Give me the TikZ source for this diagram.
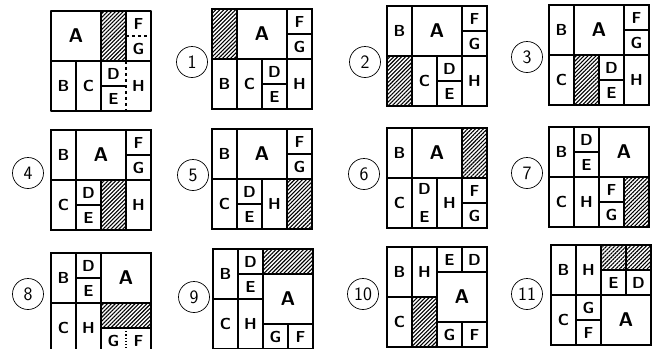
\documentclass[tikz,border=0pt]{standalone}
\usepackage{tikz}
\usetikzlibrary{patterns.meta}

\begin{document}
\begin{tikzpicture}[x=1bp, y=-1bp]
	% Define style for nodes
	\tikzstyle{every node}=[inner sep=0pt, outer sep=0pt]
	\tikzstyle{lbl}=[font=\sffamily\bfseries\fontsize{16}{24}\selectfont]
	\tikzstyle{piece}=[lbl, draw, rectangle, anchor=north west, line width=1.2pt]
	\tikzstyle{onebox}=[piece, minimum width=25bp, minimum height=25bp]
	\tikzstyle{tallbox}=[piece, minimum width=25bp, minimum height=50bp]
	\tikzstyle{widebox}=[piece, minimum width=50bp, minimum height=25bp]
	\tikzstyle{bigbox}=[piece, minimum width=50bp, minimum height=50bp, font=\sffamily\bfseries\fontsize{20}{22}\selectfont]
	\tikzstyle{hole}=[pattern={Lines[angle=45, distance=2.8pt, line width=1.1pt]}, line width=1.5pt]
	\tikzstyle{wall}=[line width=1.2pt]
	\tikzstyle{outline}=[line width=2.4pt, line join=round]
	\tikzstyle{stepnum}=[circle, draw, line width=0.7pt, minimum size=31bp, font=\sffamily\fontsize{19}{19}\selectfont]
	
	\useasboundingbox (0,0) rectangle (654,348);
	
	\begin{scope}[shift={(51,11)}, x=25bp, y=-25bp]
		\fill[hole] (2,0) rectangle (3,2);
		\draw[wall] (0,2) -- (4,2);
		\draw[wall] (2,0) -- (2,4);
		\draw[wall] (3,0) -- (3,2);
		\draw[wall] (1,2) -- (1,4);
		\draw[wall] (2,3) -- (3,3);
		\draw[wall, dashed] (3,2) -- (3,4);
		\draw[wall, dashed] (3,1) -- (4,1);
		
		\node[lbl, font=\sffamily\bfseries\fontsize{20}{22}\selectfont] (a) at (1,1) {A};
		\node[lbl] (f) at (3.5,0.5) {F};
		\node[lbl] (g) at (3.5,1.5) {G};
		\node[lbl] (b) at (0.5,3) {B};
		\node[lbl] (c) at (1.5,3) {C};
		\node[lbl] (d) at (2.5,2.5) {D};
		\node[lbl] (e) at (2.5,3.5) {E};
		\node[lbl] (h) at (3.5,3) {H};
		\draw[outline] (0,0) rectangle (4,4);
	\end{scope}
	
	\begin{scope}[shift={(212,9)}, x=25bp, y=-25bp]
		\node[tallbox, hole] (x) at (0,0) {};
		\node[bigbox] (a) at (1,0) {A};
		\node[onebox] (f) at (3,0) {F};
		\node[onebox] (g) at (3,1) {G};
		\node[tallbox] (b) at (0,2) {B};
		\node[tallbox] (c) at (1,2) {C};
		\node[onebox] (d) at (2,2) {D};
		\node[onebox] (e) at (2,3) {E};
		\node[tallbox] (h) at (3,2) {H};
		\draw[outline] (0,0) rectangle (4,4);
	\end{scope}
	
	\begin{scope}[shift={(387,6)}, x=25bp, y=-25bp]
		\node[tallbox] (b) at (0,0) {B};
		\node[bigbox] (a) at (1,0) {A};
		\node[onebox] (f) at (3,0) {F};
		\node[onebox] (g) at (3,1) {G};
		\node[tallbox, hole] (x) at (0,2) {};
		\node[tallbox] (c) at (1,2) {C};
		\node[onebox] (d) at (2,2) {D};
		\node[onebox] (e) at (2,3) {E};
		\node[tallbox] (h) at (3,2) {H};
		\draw[outline] (0,0) rectangle (4,4);
	\end{scope}
	
	\begin{scope}[shift={(549,5)}, x=25bp, y=-25bp]
		\node[tallbox] (b) at (0,0) {B};
		\node[bigbox] (a) at (1,0) {A};
		\node[onebox] (f) at (3,0) {F};
		\node[onebox] (g) at (3,1) {G};
		\node[tallbox] (c) at (0,2) {C};
		\node[tallbox, hole] (x) at (1,2) {};
		\node[onebox] (d) at (2,2) {D};
		\node[onebox] (e) at (2,3) {E};
		\node[tallbox] (h) at (3,2) {H};
		\draw[outline] (0,0) rectangle (4,4);
	\end{scope}
	
	\begin{scope}[shift={(51,130)}, x=25bp, y=-25bp]
		\node[tallbox] (b) at (0,0) {B};
		\node[bigbox] (a) at (1,0) {A};
		\node[onebox] (f) at (3,0) {F};
		\node[onebox] (g) at (3,1) {G};
		\node[tallbox] (c) at (0,2) {C};
		\node[onebox] (d) at (1,2) {D};
		\node[onebox] (e) at (1,3) {E};
		\node[tallbox, hole] (x) at (2,2) {};
		\node[tallbox] (h) at (3,2) {H};
		\draw[outline] (0,0) rectangle (4,4);
	\end{scope}
	
	\begin{scope}[shift={(212,129)}, x=25bp, y=-25bp]
		\node[tallbox] (b) at (0,0) {B};
		\node[bigbox] (a) at (1,0) {A};
		\node[onebox] (f) at (3,0) {F};
		\node[onebox] (g) at (3,1) {G};
		\node[tallbox] (c) at (0,2) {C};
		\node[onebox] (d) at (1,2) {D};
		\node[onebox] (e) at (1,3) {E};
		\node[tallbox] (h) at (2,2) {H};
		\node[tallbox, hole] (x) at (3,2) {};
		\draw[outline] (0,0) rectangle (4,4);
	\end{scope}
	
	\begin{scope}[shift={(387,128)}, x=25bp, y=-25bp]
		\node[tallbox] (b) at (0,0) {B};
		\node[bigbox] (a) at (1,0) {A};
		\node[tallbox, hole] (x) at (3,0) {};
		\node[tallbox] (c) at (0,2) {C};
		\node[tallbox, align=center] (de) at (1,2) {D\\[4bp]E};
		\node[tallbox] (h) at (2,2) {H};
		\node[onebox] (f) at (3,2) {F};
		\node[onebox] (g) at (3,3) {G};
		\draw[outline] (0,0) rectangle (4,4);
	\end{scope}
	
	\begin{scope}[shift={(549,127)}, x=25bp, y=-25bp]
		\node[tallbox] (b) at (0,0) {B};
		\node[onebox] (d) at (1,0) {D};
		\node[onebox] (e) at (1,1) {E};
		\node[bigbox] (a) at (2,0) {A};
		\node[tallbox] (c) at (0,2) {C};
		\node[tallbox] (h) at (1,2) {H};
		\node[onebox] (f) at (2,2) {F};
		\node[onebox] (g) at (2,3) {G};
		\node[tallbox, hole] (x) at (3,2) {};
		\draw[outline] (0,0) rectangle (4,4);
	\end{scope}
	
	\begin{scope}[shift={(51,253)}, x=25bp, y=-25bp]
		\node[tallbox] (b) at (0,0) {B};
		\node[onebox] (d) at (1,0) {D};
		\node[onebox] (e) at (1,1) {E};
		\node[bigbox] (a) at (2,0) {A};
		\node[tallbox] (c) at (0,2) {C};
		\node[tallbox] (h) at (1,2) {H};
		\node[widebox, hole] (x) at (2,2) {};
		\node[onebox, draw=none] (g) at (2,3) {G};
		\node[onebox, draw=none] (f) at (3,3) {F};
		\draw[wall, dotted] (3,3) -- (3,4);
		\draw[outline] (0,0) rectangle (4,4);
	\end{scope}
	
	\begin{scope}[shift={(213,249)}, x=25bp, y=-25bp]
		\node[tallbox] (b) at (0,0) {B};
		\node[onebox] (d) at (1,0) {D};
		\node[onebox] (e) at (1,1) {E};
		\node[widebox, hole] (x) at (2,0) {};
		\node[bigbox] (a) at (2,1) {A};
		\node[tallbox] (c) at (0,2) {C};
		\node[tallbox] (h) at (1,2) {H};
		\node[onebox] (g) at (2,3) {G};
		\node[onebox] (f) at (3,3) {F};
		\draw[outline] (0,0) rectangle (4,4);
	\end{scope}
	
	\begin{scope}[shift={(387,247)}, x=25bp, y=-25bp]
		\node[tallbox] (b) at (0,0) {B};
		\node[tallbox] (h) at (1,0) {H};
		\node[onebox] (e) at (2,0) {E};
		\node[onebox] (d) at (3,0) {D};
		\node[bigbox] (a) at (2,1) {A};
		\node[tallbox] (c) at (0,2) {C};
		\node[tallbox, hole] (x) at (1,2) {};
		\node[onebox] (g) at (2,3) {G};
		\node[onebox] (f) at (3,3) {F};
		\draw[outline] (0,0) rectangle (4,4);
	\end{scope}
	
	\begin{scope}[shift={(551,245)}, x=25bp, y=-25bp]
		\node[tallbox] (b) at (0,0) {B};
		\node[tallbox] (h) at (1,0) {H};
		\node[onebox, hole] (x1) at (2,0) {};
		\node[onebox, hole] (x2) at (3,0) {};
		\node[onebox] (e) at (2,1) {E};
		\node[onebox] (d) at (3,1) {D};
		\node[tallbox] (c) at (0,2) {C};
		\node[onebox] (g) at (1,2) {G};
		\node[onebox] (f) at (1,3) {F};
		\node[bigbox] (a) at (2,2) {A};
		\draw[outline] (0,0) rectangle (4,4);
	\end{scope}
	
	% step numbers
	\node[stepnum] (n1) at (192,62) {1};
	\node[stepnum] (n2) at (365,62) {2};
	\node[stepnum] (n3) at (527,57) {3};
	\node[stepnum] (n4) at (28,173) {4};
	\node[stepnum] (n5) at (193,175) {5};
	\node[stepnum] (n6) at (364,174) {6};
	\node[stepnum] (n7) at (527,173) {7};
	\node[stepnum] (n8) at (28,294) {8};
	\node[stepnum] (n9) at (194,297) {9};
	\node[stepnum] (n10) at (363,294) {10};
	\node[stepnum] (n11) at (527,294) {11};
	
\end{tikzpicture}
\end{document}
